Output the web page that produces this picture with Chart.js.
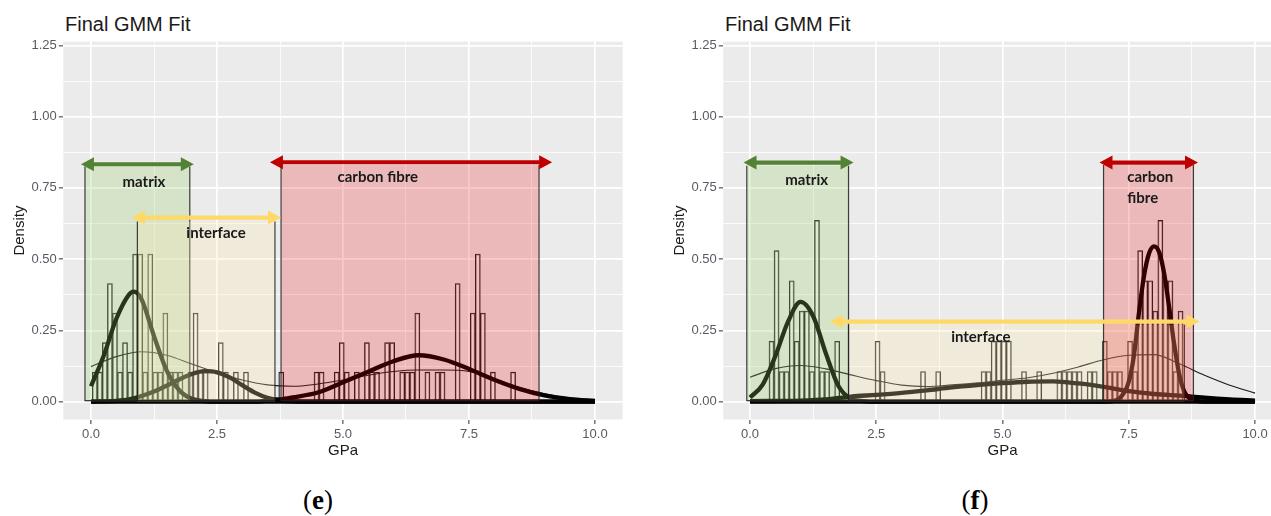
<!DOCTYPE html>
<html><head><meta charset="utf-8">
<script src="https://cdn.jsdelivr.net/npm/chart.js@4.4.1/dist/chart.umd.min.js"></script>
<style>
html,body{margin:0;padding:0;background:#fff;}
body{width:1271px;height:516px;overflow:hidden;position:relative;font-family:"Liberation Sans",Arial,sans-serif;}
.cv{position:absolute;top:0;}
.title{position:absolute;top:11px;font-size:20px;line-height:26px;color:#1a1a1a;white-space:nowrap;}
.cap{position:absolute;top:484px;font-family:"Liberation Serif","DejaVu Serif",serif;font-size:27px;line-height:32px;color:#000;transform:translateX(-50%);white-space:nowrap;}
</style></head><body>
<div class="title" style="left:65px">Final GMM Fit</div>
<div class="title" style="left:725px">Final GMM Fit</div>
<canvas id="ce" class="cv" style="left:0px" width="640" height="470"></canvas>
<canvas id="cf" class="cv" style="left:660px" width="640" height="470"></canvas>
<div class="cap" style="left:318px">(<b>e</b>)</div>
<div class="cap" style="left:975px">(<b>f</b>)</div>
<script>
// ---- axis ticks ----
const xMajorTicks = [0, 2.5, 5, 7.5, 10];
const xTickLabels = ['0.0', '2.5', '5.0', '7.5', '10.0'];
const xMinorTicks = [1.25, 3.75, 6.25, 8.75];
const yMajorTicks = [0, 0.25, 0.5, 0.75, 1, 1.25];
const yTickLabels = ['0.00', '0.25', '0.50', '0.75', '1.00', '1.25'];
const yMinorTicks = [0.125, 0.375, 0.625, 0.875, 1.125];

// ---- histogram (e) ----
const binWidth = 0.1;
const eBinStart = 0.025;
const eDensityPerCount = 0.1036;
const eCounts = [1,1,2,4,3,1,2,1,5,5, 1,5,1,1,3,1,1,1,0,1, 3,1,1,0,0,2,1,0,1,0, 1,0,0,0,0,0,0,1,0,0,
                 0,0,0,0,1,1,0,0,1,2, 1,0,1,0,2,1,1,0,2,2, 0,1,1,1,3,0,1,0,1,1, 0,0,4,0,0,3,5,3,0,1,
                 0,0,0,1];
// ---- histogram (f) ----
const fBinStart = -0.025;
const fDensityPerCount = 0.106;
const fCounts = [0,0,0,0,2,5,1,1,4,2, 3,3,1,6,1,1,0,2,0,0, 0,0,0,0,0,2,1,0,0,0, 0,0,0,0,1,0,0,1,0,0,
                 0,0,0,0,0,0,1,1,2,2, 2,2,0,0,1,0,0,1,0,0, 0,1,1,1,1,1,0,1,1,0, 2,1,1,1,0,2,1,5,4,4,
                 3,6,4,4,1,3];

// ---- GMM curves (e) ----
const eMatrixX = [0,0.25,0.5,0.75,0.85,1.0,1.25,1.5,1.75,2.0,2.25,2.5,3,4,5,6,7,8,9,10];
const eMatrixY = [0.054,0.16,0.29,0.375,0.386,0.36,0.23,0.11,0.04,0.01,0.002,0,0,0,0,0,0,0,0,0];
const eInterX = [0,0.5,0.75,1.0,1.25,1.5,1.75,2.0,2.25,2.5,2.75,3.0,3.25,3.5,3.75,4.0,4.5,6,8,10];
const eInterY = [0,0.003,0.008,0.02,0.036,0.056,0.078,0.097,0.107,0.103,0.085,0.058,0.032,0.014,0.005,0.001,0,0,0,0];
const eCarbonX = [0,2,3.25,3.5,3.75,4.0,4.5,5.0,5.5,6.0,6.5,7.0,7.5,8.0,8.5,9.0,9.5,10.0];
const eCarbonY = [0,0,0,0.004,0.008,0.015,0.032,0.068,0.105,0.142,0.163,0.148,0.115,0.077,0.045,0.022,0.009,0.003];
const eMixX = [0,0.5,1.0,1.5,2.0,2.5,3.0,3.5,4.0,4.5,5.0,5.5,6.0,6.5,7.0,7.5,8.0,8.5,9.0,9.5,10.0];
const eMixY = [0.123,0.158,0.175,0.163,0.132,0.102,0.076,0.059,0.054,0.062,0.076,0.093,0.106,0.111,0.111,0.106,0.08,0.05,0.028,0.013,0.006];

// ---- GMM curves (f) ----
const fMatrixX = [0,0.25,0.5,0.75,1.0,1.25,1.5,1.75,2.0,2.25,2.5,4,6,8,10];
const fMatrixY = [0.015,0.06,0.16,0.28,0.35,0.3,0.17,0.055,0.01,0.002,0,0,0,0,0];
const fInterX = [0,1.0,1.5,2.0,2.5,3.0,3.5,4.0,4.5,5.0,5.5,6.0,6.5,7.0,7.5,8.0,8.5,8.75,9.0,9.5,10.0];
const fInterY = [0.002,0.004,0.008,0.018,0.024,0.031,0.04,0.05,0.058,0.065,0.07,0.071,0.064,0.052,0.037,0.027,0.021,0.018,0.014,0.008,0.004];
const fCarbonX = [0,7.0,7.25,7.4,7.5,7.6,7.7,7.8,7.9,8.0,8.1,8.2,8.3,8.4,8.5,8.6,8.7,9.0,10];
const fCarbonY = [0,0,0.005,0.03,0.07,0.16,0.31,0.44,0.52,0.545,0.525,0.45,0.33,0.2,0.095,0.035,0.012,0,0];
const fMixX = [0,0.5,1.0,1.5,2.0,2.5,3.0,3.5,4.0,4.5,5.0,5.5,6.0,6.5,7.0,7.5,8.0,8.5,9.0,9.5,10.0];
const fMixY = [0.086,0.116,0.127,0.115,0.094,0.074,0.058,0.053,0.059,0.066,0.075,0.084,0.1,0.122,0.147,0.163,0.165,0.133,0.093,0.058,0.03];

// ---- annotation regions (GPa / density) ----
const eRegionFrom = [-0.12, 0.92, 3.77];
const eRegionTo   = [1.96, 3.65, 8.89];
const eRegionTop  = [0.825, 0.632, 0.83];
const eArrowFrom  = [-0.2, 0.81, 3.55];
const eArrowTo    = [2.04, 3.77, 9.15];
const eArrowAt    = [0.833, 0.646, 0.84];
const eLabels = [['matrix'], ['interface'], ['carbon fibre']];
const eLabelX = [1.05, 2.48, 5.69];
const eLabelY = [0.77, 0.59, 0.788];

const fRegionFrom = [-0.065, 1.95, 7.0];
const fRegionTo   = [1.95, 8.6, 8.78];
const fRegionTop  = [0.828, 0.27, 0.83];
const fArrowFrom  = [-0.13, 1.58, 6.92];
const fArrowTo    = [2.05, 8.9, 8.87];
const fArrowAt    = [0.839, 0.281, 0.839];
const fLabels = [['matrix'], ['interface'], ['carbon','fibre']];
const fLabelX = [1.12, 4.57, 7.47];
const fLabelY = [0.778, 0.228, 0.788];

// ---- styles ----
const regionFill = ['rgba(150,205,105,0.26)', 'rgba(255,232,178,0.27)', 'rgba(235,0,0,0.21)'];
const arrowColor = ['#548235', '#FFD966', '#C00000'];

function pairs(xs, ys){ return xs.map((x,i)=>({x:x, y:ys[i]})); }
function histPoints(start, counts, unit){
  return counts.map((c,i)=>({x: start + binWidth*(i+0.5), y: c*unit}));
}
const near = (arr, v) => arr.findIndex(t => Math.abs(t - v) < 1e-6);

function drawArrow(ctx, x0, x1, y, color){
  const head = 13, half = 7;
  ctx.save();
  ctx.strokeStyle = color; ctx.fillStyle = color; ctx.lineWidth = 4.2;
  ctx.beginPath(); ctx.moveTo(x0 + head - 1, y); ctx.lineTo(x1 - head + 1, y); ctx.stroke();
  ctx.beginPath(); ctx.moveTo(x0, y); ctx.lineTo(x0 + head, y - half); ctx.lineTo(x0 + head, y + half); ctx.closePath(); ctx.fill();
  ctx.beginPath(); ctx.moveTo(x1, y); ctx.lineTo(x1 - head, y - half); ctx.lineTo(x1 - head, y + half); ctx.closePath(); ctx.fill();
  ctx.restore();
}

function makePanel(id, xMin, xMax, padRight, hist, curves, ann){
  const decor = {
    id: 'decor_' + id,
    beforeDraw(chart){
      const {ctx, chartArea:a} = chart;
      ctx.save(); ctx.fillStyle = '#EBEBEB'; ctx.fillRect(a.left, a.top, a.width, a.height); ctx.restore();
    },
    afterDatasetsDraw(chart){
      const {ctx} = chart; const xs = chart.scales.x, ys = chart.scales.y;
      const y0 = ys.getPixelForValue(0);
      ctx.save();
      for (let i = 0; i < ann.from.length; i++){
        const l = xs.getPixelForValue(ann.from[i]), r = xs.getPixelForValue(ann.to[i]);
        const t = ys.getPixelForValue(ann.top[i]);
        ctx.fillStyle = regionFill[i];
        ctx.fillRect(l, t, r - l, y0 - t);
        ctx.strokeStyle = 'rgba(30,30,30,0.85)'; ctx.lineWidth = 1.2;
        ctx.beginPath();
        ctx.moveTo(l, t); ctx.lineTo(l, y0 - 1); ctx.lineTo(r, y0 - 1); ctx.lineTo(r, t);
        ctx.stroke();
      }
      for (let i = 0; i < ann.afrom.length; i++){
        drawArrow(ctx, xs.getPixelForValue(ann.afrom[i]), xs.getPixelForValue(ann.ato[i]), ys.getPixelForValue(ann.aat[i]), arrowColor[i]);
      }
      ctx.fillStyle = '#1a1a1a';
      ctx.font = 'bold 15px Lato, "Open Sans", sans-serif';
      ctx.textBaseline = 'middle';
      for (let i = 0; i < ann.labels.length; i++){
        const lines = ann.labels[i];
        const px = xs.getPixelForValue(ann.lx[i]), py = ys.getPixelForValue(ann.ly[i]);
        ctx.textAlign = lines.length > 1 ? 'left' : 'center';
        lines.forEach((s, k) => ctx.fillText(s, px, py + k*21));
      }
      ctx.restore();
    }
  };
  const lineDs = (d, w, col, ord) => ({type:'line', data:d, borderColor:col, borderWidth:w, pointRadius:0,
      cubicInterpolationMode:'monotone', fill:false, order:ord});
  const datasets = [
    ...curves.thick.map(d => lineDs(d, 4.3, '#000000', 1)),
    lineDs(curves.thin, 1.1, '#1a1a1a', 2),
    {type:'bar', data:hist, backgroundColor:'rgba(255,255,255,0.55)', borderColor:'#1f1f1f', borderWidth:1.1,
     borderSkipped:false, barPercentage:1, categoryPercentage:1, order:3}
  ];
  const tickFont = {family:'"Liberation Sans", Arial, sans-serif', size:13};
  new Chart(document.getElementById(id), {
    type:'bar',
    data:{datasets},
    options:{
      responsive:false, animation:false, devicePixelRatio:1,
      layout:{padding:{top:41.7, right:padRight, left:0, bottom:0}},
      plugins:{legend:{display:false}, tooltip:{enabled:false}},
      scales:{
        x:{type:'linear', min:xMin, max:xMax, offset:false,
           afterBuildTicks:s => { s.ticks = xMajorTicks.concat(xMinorTicks).sort((a,b)=>a-b).map(v=>({value:v})); },
           afterFit:s => { s.height = 50.5; },
           ticks:{font:tickFont, color:'#565a63', padding:3, maxRotation:0, autoSkip:false,
                  callback:v => { const i = near(xMajorTicks, v); return i >= 0 ? xTickLabels[i] : ''; }},
           grid:{offset:false, color:'#ffffff', lineWidth:c => near(xMajorTicks, c.tick.value) >= 0 ? 1.7 : 0.8,
                 drawTicks:true, tickLength:4.5, tickWidth:1.1,
                 tickColor:c => near(xMajorTicks, c.tick.value) >= 0 ? '#444' : 'rgba(0,0,0,0)'},
           border:{display:false},
           title:{display:true, text:'GPa', color:'#1a1a1a', font:{family:'"Liberation Sans", Arial, sans-serif', size:15}, padding:{top:0, bottom:10}}
        },
        y:{type:'linear', min:-0.0625, max:1.263,
           afterBuildTicks:s => { s.ticks = yMajorTicks.concat(yMinorTicks).sort((a,b)=>a-b).map(v=>({value:v})); },
           afterFit:s => { s.width = 63.3; },
           ticks:{font:tickFont, color:'#565a63', padding:2, autoSkip:false,
                  callback:v => { const i = near(yMajorTicks, v); return i >= 0 ? yTickLabels[i] : ''; }},
           grid:{color:'#ffffff', lineWidth:c => near(yMajorTicks, c.tick.value) >= 0 ? 1.7 : 0.8,
                 drawTicks:true, tickLength:4.5, tickWidth:1.1,
                 tickColor:c => near(yMajorTicks, c.tick.value) >= 0 ? '#444' : 'rgba(0,0,0,0)'},
           border:{display:false},
           title:{display:true, text:'Density', color:'#1a1a1a', font:{family:'"Liberation Sans", Arial, sans-serif', size:15}, padding:{top:10.5, bottom:0}}
        }
      }
    },
    plugins:[decor]
  });
}

makePanel('ce', -0.55, 10.55, 17.3,
  histPoints(eBinStart, eCounts, eDensityPerCount),
  {thick:[pairs(eMatrixX,eMatrixY), pairs(eInterX,eInterY), pairs(eCarbonX,eCarbonY)], thin:pairs(eMixX,eMixY)},
  {from:eRegionFrom, to:eRegionTo, top:eRegionTop, afrom:eArrowFrom, ato:eArrowTo, aat:eArrowAt, labels:eLabels, lx:eLabelX, ly:eLabelY});

makePanel('cf', -0.53, 10.53, 18.2,
  histPoints(fBinStart, fCounts, fDensityPerCount),
  {thick:[pairs(fMatrixX,fMatrixY), pairs(fInterX,fInterY), pairs(fCarbonX,fCarbonY)], thin:pairs(fMixX,fMixY)},
  {from:fRegionFrom, to:fRegionTo, top:fRegionTop, afrom:fArrowFrom, ato:fArrowTo, aat:fArrowAt, labels:fLabels, lx:fLabelX, ly:fLabelY});
</script>
</body></html>
